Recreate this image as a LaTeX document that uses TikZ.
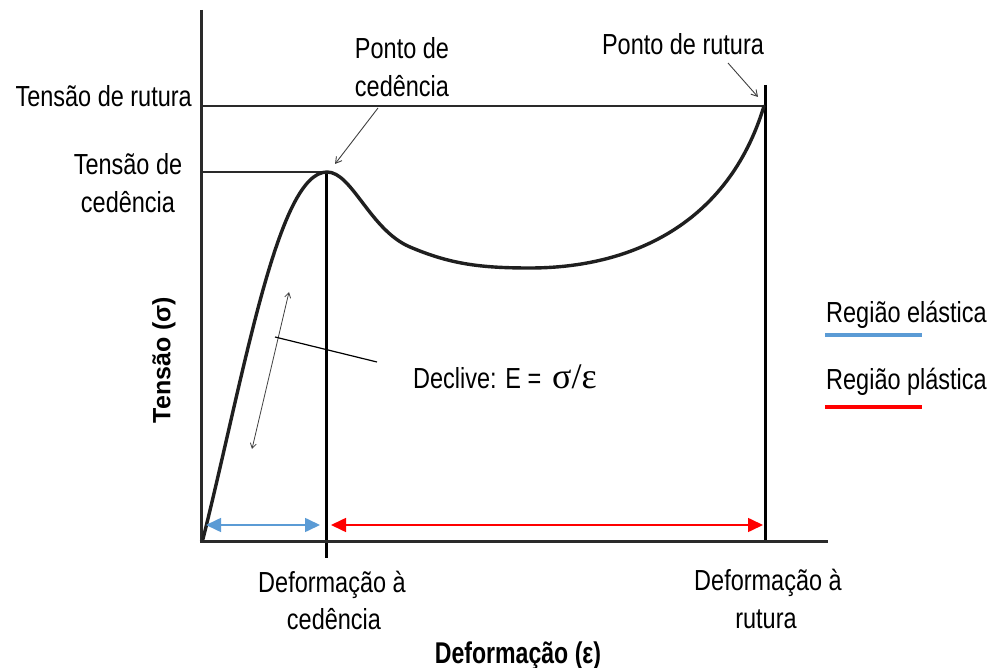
\documentclass[tikz,border=0pt]{standalone}
\usepackage{fontspec}
\setmainfont{Liberation Sans}[FakeStretch=0.81]
\newfontfamily\axisfont{Liberation Sans}[FakeStretch=0.77]
\newfontfamily\yaxisfont{Liberation Sans}
\newfontfamily\greekfont{Liberation Serif}
\usetikzlibrary{arrows.meta}
\definecolor{elastblue}{HTML}{5B9BD5}
\definecolor{plastred}{HTML}{FF0000}
\definecolor{axisgray}{HTML}{2A2A2A}
\tikzset{
  lbl/.style={inner sep=0pt, font=\fontsize{29}{35}\selectfont},
  axislbl/.style={inner sep=0pt, font=\axisfont\bfseries\fontsize{30}{34}\selectfont},
  axisline/.style={line width=3pt, axisgray},
  refline/.style={line width=1.6pt, axisgray},
  markline/.style={line width=3pt, black},
  curveline/.style={line width=3.4pt, black!88, line cap=round, line join=round},
  pointer/.style={line width=0.9pt, black!75, -{Straight Barb[length=6pt,width=7pt]}},
  slopearrow/.style={line width=0.8pt, black!75, {Straight Barb[length=5pt,width=6pt]}-{Straight Barb[length=5pt,width=6pt]}},
  regionarrow/.style={line width=1.6pt, {Triangle[length=15pt,width=14pt]}-{Triangle[length=15pt,width=14pt]}},
  legendline/.style={line width=4pt}
}
\begin{document}
\begin{tikzpicture}[x=1pt,y=-1pt]
\useasboundingbox (0,0) rectangle (989,668);
% coordinates
\coordinate (origin) at (203,539);
\coordinate (ytop) at (201,10);
\coordinate (xend) at (828,541);
\coordinate (peak) at (327,172);
\coordinate (rupt) at (764,106);
\coordinate (yieldbot) at (326,558);
\coordinate (ruptop) at (765,85);
\coordinate (ruptbot) at (765,541);
\coordinate (yieldleft) at (202,172);
\coordinate (ruptleft) at (202,106);
% reference lines
\draw[refline] (ruptleft) -- (rupt);
\draw[line width=2.6pt, axisgray] (722,106) -- (rupt);
\draw[refline] (yieldleft) -- (peak);
% vertical markers
\draw[markline] (326,172) -- (yieldbot);
\draw[markline] (ruptop) -- (ruptbot);
% axes
\draw[axisline] (ytop) -- (201,542.5);
\draw[axisline] (199.5,541) -- (xend);
% curve
\draw[curveline] (origin) .. controls (245,370) and (278,172) .. (peak)
  .. controls (352,172) and (370,230) .. (410,247)
  .. controls (450,264) and (480,268) .. (530,268)
  .. controls (630,268) and (728,225) .. (rupt);
% region arrows
\draw[regionarrow, elastblue] (206,525) -- (320,525);
\draw[regionarrow, plastred] (331,525) -- (763,525);
% slope arrow and leader
\coordinate (slA) at (289,292);
\coordinate (slB) at (252,449);
\draw[slopearrow] (slA) -- (slB);
\coordinate (leadA) at (275,337);
\coordinate (leadB) at (377,362);
\draw[line width=1.2pt, black] (leadA) -- (leadB);
% labels
\node[lbl, anchor=base east] (trup) at (192,107) {Tensão de rutura};
\node[lbl, anchor=base] (tced1) at (128,175) {Tensão de};
\node[lbl, anchor=base] (tced2) at (128,213) {cedência};
\node[lbl, anchor=base] (pced1) at (402,59) {Ponto de};
\node[lbl, anchor=base] (pced2) at (402,97) {cedência};
\node[lbl, anchor=base] (prup) at (683,55) {Ponto de rutura};
\node[lbl, anchor=base west] (decl) at (413,389) {Declive: E =};
\node[inner sep=0pt, anchor=base west, font=\greekfont\fontsize{36}{40}\selectfont] (frac) at (552,389) {σ/ε};
\node[lbl, anchor=base] (dced1) at (332,592) {Deformação à};
\node[lbl, anchor=base] (dced2) at (334,629) {cedência};
\node[lbl, anchor=base] (drup1) at (768,590) {Deformação à};
\node[lbl, anchor=base] (drup2) at (766,628) {rutura};
\node[axislbl, anchor=base] (xlab) at (518,663) {Deformação (ε)};
\node[inner sep=0pt, rotate=90, font=\yaxisfont\bfseries\fontsize{25}{28}\selectfont] (ylab) at (164,360) {Tensão (σ)};
% pointers
\coordinate (pcA) at (378,108);
\coordinate (pcB) at (335,164);
\draw[pointer] (pcA) -- (pcB);
\coordinate (prA) at (728,63);
\coordinate (prB) at (758,97);
\draw[pointer] (prA) -- (prB);
% legend
\node[lbl, anchor=base west] (legE) at (826,323) {Região elástica};
\node[lbl, anchor=base west] (legP) at (826,390) {Região plástica};
\draw[legendline, elastblue] (825,335) -- (922,335);
\draw[legendline, plastred] (825,407) -- (922,407);
\end{tikzpicture}
\end{document}
